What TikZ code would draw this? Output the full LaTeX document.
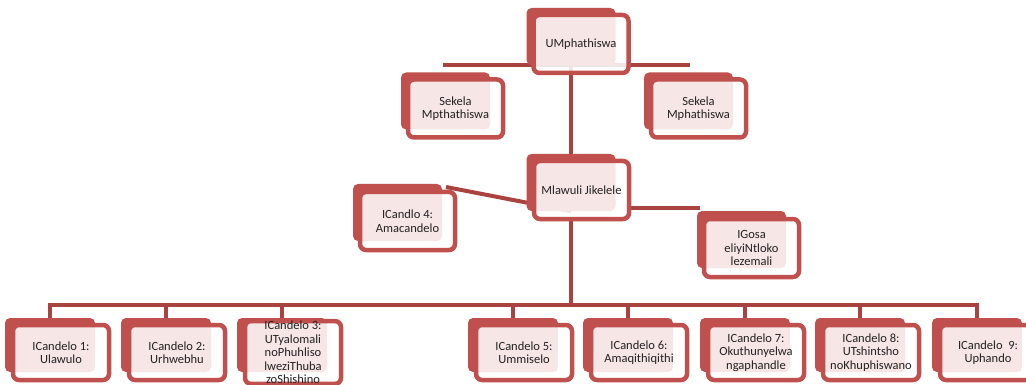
\documentclass[tikz,border=0pt]{standalone}
\usepackage{fontspec}
\setmainfont{Carlito}
\usetikzlibrary{backgrounds}
\definecolor{boxred}{HTML}{C0504D}
\definecolor{linered}{HTML}{AA4240}
\definecolor{txt}{HTML}{222222}
\begin{document}
\begin{tikzpicture}[x=1pt,y=-1pt,
  back/.style={fill=boxred, rounded corners=5pt, inner sep=0pt},
  front/.style={draw=boxred, line width=4.5pt, fill=white, fill opacity=0.86, text opacity=1,
    rounded corners=6pt, inner sep=0pt, align=center, text=txt,
    font=\fontsize{12.5}{13.5}\selectfont},
  backS/.style={back, minimum width=89pt, minimum height=57pt},
  frontS/.style={front, minimum width=95pt, minimum height=58pt},
  backB/.style={back, minimum width=90pt, minimum height=54pt},
  frontB/.style={front, minimum width=96pt, minimum height=55pt},
  conn/.style={draw=linered, line width=4.5pt}]
\useasboundingbox (0,0) rectangle (1026,385);

% upper boxes
\node[backS] (btop) at (571,36.5) {};
\node[frontS] (top) at (581,44) {UMphathiswa};
\node[backS] (bsekL) at (445.5,101) {};
\node[frontS] (sekL) at (455.5,108.5) {Sekela\\Mpthathiswa};
\node[backS] (bsekR) at (688.5,101) {};
\node[frontS] (sekR) at (698.5,108.5) {Sekela\\Mphathiswa};
\node[backS] (bml) at (571,182.5) {};
\node[frontS] (ml) at (581.5,190) {Mlawuli Jikelele};
\node[backS] (bc4) at (397.5,212.5) {};
\node[frontS] (c4) at (407.5,221) {ICandlo 4:\\Amacandelo};
\node[backS] (bgosa) at (741.5,239.5) {};
\node[frontS] (gosa) at (751.5,248) {IGosa\\eliyiNtloko\\lezemali};

% bottom boxes
\foreach \n/\c/\t in {1/50/{ICandelo 1:\\Ulawulo},
                      2/166/{ICandelo 2:\\Urhwebhu},
                      3/282/{ICandelo 3:\\UTyalomali\\noPhuhliso\\lweziThuba\\zoShishino},
                      5/513/{ICandelo 5:\\Ummiselo},
                      6/628/{ICandelo 6:\\Amaqithiqithi},
                      7/745/{ICandelo 7:\\Okuthunyelwa\\ngaphandle},
                      8/860/{ICandelo 8:\\UTshintsho\\noKhuphiswano},
                      9/977/{ICandelo\ \ 9:\\Uphando}} {
  \node[backB] (bb\n) at (\c,345) {};
  \node[frontB] (c\n) at (\c+11,352.5) {\t};
}

\coordinate (tl) at (443,65);
\coordinate (tr) at (690,65);
\coordinate (barL) at (50,305);
\coordinate (d1) at (446,187);
\coordinate (r1) at (700,208);

\begin{pgfonlayer}{background}
  \draw[conn, line width=3.5pt] (tl) -- (tr);
  \draw[conn] (btop.south) -- (bml.north);
  \draw[conn] (bml.south |- ml.south) -- (bml.south |- barL);
  \draw[conn] (bb1.north) -- (bb1.north |- barL) -- (bb9.north |- barL) -- (bb9.north);
  \foreach \n in {2,3,5,6,7,8} \draw[conn] (bb\n.north |- barL) -- (bb\n.north);
  \draw[conn, line width=4pt] (d1) -- (bml.south);
  \draw[conn] (r1 -| ml.east) -- (r1);
\end{pgfonlayer}
\end{tikzpicture}
\end{document}
